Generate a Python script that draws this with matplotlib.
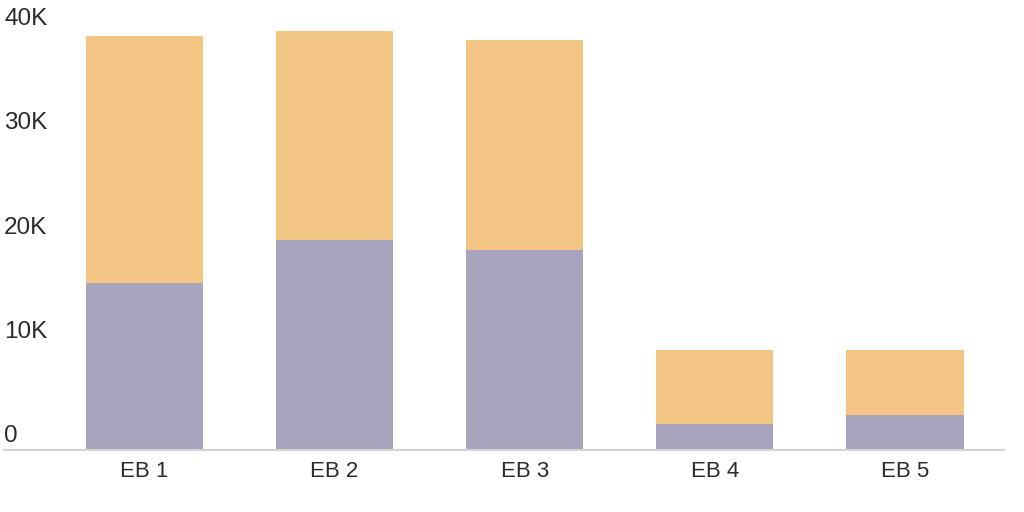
import matplotlib
matplotlib.use("Agg")
import matplotlib.pyplot as plt
import matplotlib.transforms as mtransforms

# datos (miles)
categorias = ["EB 1", "EB 2", "EB 3", "EB 4", "EB 5"]
serie_inferior = [16.0, 20.1, 19.2, 2.5, 3.35]
serie_superior = [23.7, 20.1, 20.1, 7.1, 6.25]
marcas_y = [0, 10, 20, 30, 40]
etiquetas_y = ["0", "10K", "20K", "30K", "40K"]

color_inferior = "#a8a4bd"
color_superior = "#f2c584"
color_texto = "#2b2b2b"

plt.rcParams['font.family'] = ['Liberation Sans', 'DejaVu Sans']

fig = plt.figure(figsize=(10.24, 5.12), dpi=100)
ax = fig.add_axes([0.004, 1 - 450 / 512, 0.976, 450 / 512])

x = list(range(len(categorias)))
ax.bar(x, serie_inferior, width=0.616, color=color_inferior)
ax.bar(x, serie_superior, width=0.616, bottom=serie_inferior, color=color_superior)

ax.set_xlim(-0.738, 4.518)
ax.set_ylim(0, 43.17)

for s in ["top", "right", "left"]:
    ax.spines[s].set_visible(False)
ax.spines["bottom"].set_color("#d4d4d4")
ax.spines["bottom"].set_linewidth(1.5)

ax.set_yticks([])
ax.set_xticks(x)
ax.set_xticklabels(categorias, fontsize=16, color=color_texto)
ax.tick_params(axis="x", length=0, pad=8)

# etiquetas del eje y encima de cada nivel
trans = mtransforms.blended_transform_factory(ax.transAxes, ax.transData)
desplazamiento = mtransforms.offset_copy(trans, fig=fig, y=3, units="dots")
for valor, texto in zip(marcas_y, etiquetas_y):
    ax.text(0.0, valor, texto, transform=desplazamiento, ha="left", va="bottom",
            fontsize=17.5, color=color_texto)

fig.savefig("out.png", dpi=100)
